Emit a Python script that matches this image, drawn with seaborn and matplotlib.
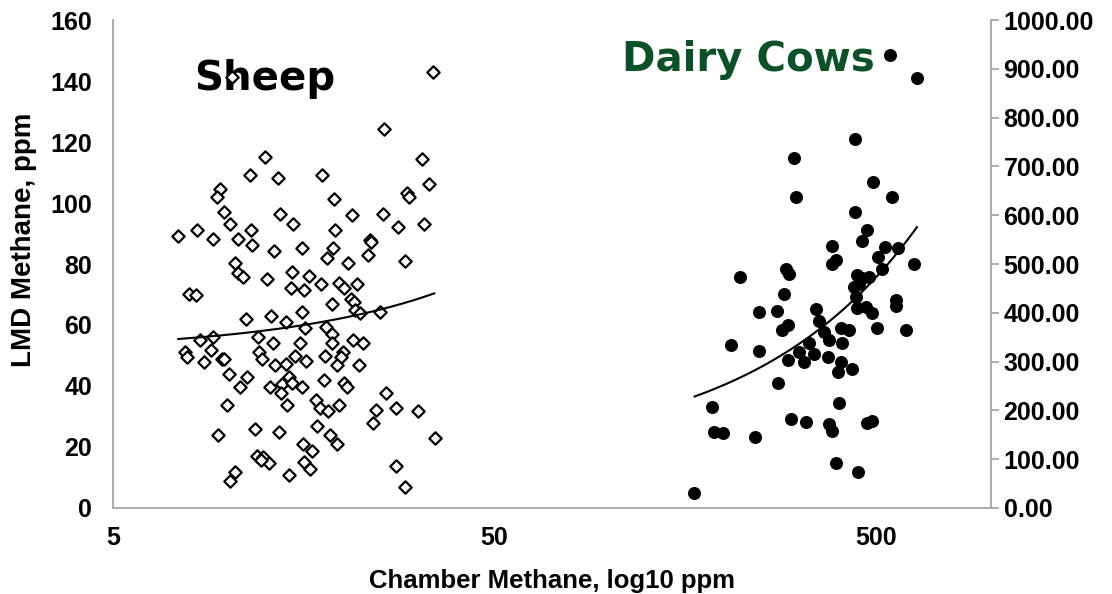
import numpy as np
import matplotlib
matplotlib.use("Agg")
import matplotlib.pyplot as plt
import seaborn as sns
from matplotlib.ticker import FixedLocator, FixedFormatter, NullLocator, FormatStrFormatter

# ---------------- data ----------------
sheep_x = [10.25, 12.5, 11.4, 13.5, 9.55, 9.35, 9.75, 13.7, 14.8, 10.15,
           7.4, 8.3, 9.15, 11.5, 10.65, 11.6, 13.2, 15.6, 10.45, 10.65,
           10.95, 12.7, 14.7, 16.35, 34.5, 25.6, 32.25, 17.65, 33.7, 29.5,
           29.9, 19.0, 21.2, 25.5, 27.95, 32.75, 19.1, 23.55, 23.7, 18.9,
           18.2, 23.3, 20.6, 29.2, 17.55, 19.6, 20.2, 21.85, 15.85, 7.9,
           8.25, 11.15, 13.0, 14.6, 14.2, 15.95, 8.45, 9.15, 9.05, 12.0,
           13.1, 15.45, 7.7, 7.8, 8.65, 9.65, 9.75, 12.1, 12.3, 13.3,
           14.2, 15.0, 16.05, 10.05, 11.25, 10.75, 12.9, 14.5, 13.9, 13.8,
           14.7, 15.65, 9.95, 14.3, 9.45, 11.8, 13.6, 15.75, 11.9, 12.4,
           12.8, 12.2, 15.85, 10.45, 10.15, 14.5, 18.8, 21.0, 21.35, 21.55,
           22.15, 25.0, 15.65, 18.05, 18.7, 18.7, 21.25, 22.55, 20.0, 19.8,
           17.95, 19.3, 22.05, 17.85, 20.2, 20.5, 26.0, 17.05, 17.45, 18.3,
           19.6, 24.5, 27.65, 31.45, 24.0, 17.15, 18.5, 19.3, 34.8, 16.65,
           16.45, 27.55, 29.1]
sheep_y = [141.4, 115.2, 109.2, 108.1, 104.5, 102.1, 97.1, 96.3, 93.1, 93.1,
           89.2, 91.1, 88.1, 91.1, 88.1, 86.1, 84.2, 85.1, 80.2, 77.1,
           75.8, 75.1, 77.3, 76.1, 143.0, 124.2, 114.3, 109.1, 106.1, 103.2,
           102.1, 101.2, 96.1, 96.3, 92.2, 93.1, 91.1, 87.9, 87.3, 85.3,
           81.9, 83.0, 80.2, 81.1, 73.3, 73.8, 72.0, 73.3, 71.5, 70.2,
           69.9, 62.0, 63.0, 72.0, 61.1, 58.9, 55.1, 56.0, 51.8, 56.0,
           54.0, 54.0, 51.2, 49.6, 48.0, 48.9, 48.9, 51.2, 48.9, 46.9,
           47.2, 49.8, 48.2, 43.9, 42.9, 39.8, 39.8, 43.0, 40.7, 37.8,
           41.1, 39.8, 33.8, 33.8, 23.9, 26.0, 24.8, 21.0, 17.1, 16.8,
           14.7, 15.7, 15.0, 11.9, 8.9, 10.8, 66.9, 68.4, 67.6, 64.9,
           63.8, 64.2, 64.2, 59.2, 57.0, 54.0, 55.1, 54.0, 51.2, 49.6,
           49.8, 46.9, 46.9, 42.0, 41.1, 39.8, 37.8, 35.4, 32.9, 31.8,
           33.8, 32.1, 32.9, 31.9, 27.8, 27.0, 23.9, 20.9, 22.9, 18.7,
           12.7, 13.9, 6.8]

cow_x = [543, 640, 441, 305, 309, 490, 551, 440, 472, 458,
         383, 529, 571, 506, 392, 383, 628, 290, 519, 220,
         295, 446, 459, 479, 437, 451, 287, 247, 275, 347,
         354, 442, 446, 470, 489, 564, 564, 293, 284, 366,
         376, 404, 425, 503, 597, 208, 247, 333, 314, 344,
         293, 324, 407, 375, 404, 398, 433, 277, 186, 188,
         198, 241, 299, 327, 376, 383, 400, 474, 489, 392,
         449, 167]
cow_y = [928, 882, 756, 717, 637, 669, 637, 606, 570, 548,
         537, 534, 532, 514, 508, 500, 501, 489, 490, 474,
         480, 477, 471, 473, 453, 459, 439, 402, 404, 407,
         384, 432, 409, 412, 400, 426, 414, 375, 365, 361,
         344, 368, 365, 368, 365, 333, 322, 338, 320, 315,
         303, 300, 338, 310, 300, 279, 284, 257, 206, 155,
         154, 145, 182, 176, 172, 158, 216, 175, 178, 93,
         73, 31]

# linear trendlines (intercept, slope)
sheep_trend = [51.35, 0.547]
cow_trend = [105.5, 0.735]

x_ticks = [5, 50, 500]
x_tick_labels = ["5", "50", "500"]
left_ticks = [0, 20, 40, 60, 80, 100, 120, 140, 160]
right_ticks = [0, 100, 200, 300, 400, 500, 600, 700, 800, 900, 1000]

# ---------------- style ----------------
sns.set_theme(style="white")
plt.rcParams["font.family"] = ["Liberation Sans", "DejaVu Sans"]
plt.rcParams["font.weight"] = "bold"
plt.rcParams["text.color"] = "black"
plt.rcParams["axes.labelcolor"] = "black"
plt.rcParams["xtick.color"] = "black"
plt.rcParams["ytick.color"] = "black"

fig = plt.figure(figsize=(11.12, 5.94), dpi=100)
ax = fig.add_axes([0.1016, 0.1448, 0.7896, 0.8215])
ax2 = ax.twinx()

spine_col = "#a6a6a6"

# sheep (left axis)
sns.scatterplot(x=sheep_x, y=sheep_y, ax=ax, marker="D", s=40,
                color="white", edgecolor="black", linewidth=1.6, zorder=3)
sx = np.linspace(min(sheep_x), max(sheep_x), 200)
sns.lineplot(x=sx, y=sheep_trend[0] + sheep_trend[1] * sx, ax=ax,
             color="black", linewidth=1.5, zorder=4)

# cows (right axis)
sns.scatterplot(x=cow_x, y=cow_y, ax=ax2, marker="o", s=88,
                color="black", edgecolor="black", linewidth=0, zorder=3)
cx = np.linspace(min(cow_x), max(cow_x), 200)
sns.lineplot(x=cx, y=cow_trend[0] + cow_trend[1] * cx, ax=ax2,
             color="black", linewidth=1.5, zorder=4)

# axes setup
ax.set_xscale("log")
ax.set_xlim(5, 1000)
ax.set_ylim(0, 160)
ax2.set_ylim(0, 1000)
ax.xaxis.set_major_locator(FixedLocator(x_ticks))
ax.xaxis.set_major_formatter(FixedFormatter(x_tick_labels))
ax.xaxis.set_minor_locator(NullLocator())
ax.set_yticks(left_ticks)
ax2.set_yticks(right_ticks)
ax2.yaxis.set_major_formatter(FormatStrFormatter("%.2f"))

ax.tick_params(axis="x", length=0, pad=13, labelsize=18, labelcolor="black")
ax.tick_params(axis="y", length=0, pad=15, labelsize=18, labelcolor="black")
ax2.tick_params(axis="y", length=6, width=1.3, color=spine_col,
                direction="out", pad=3, labelsize=18, labelcolor="black")
for lab in ax.get_xticklabels() + ax.get_yticklabels() + ax2.get_yticklabels():
    lab.set_fontweight("bold")

for side in ["top", "right"]:
    ax.spines[side].set_visible(False)
for side in ["left", "bottom"]:
    ax.spines[side].set_color(spine_col)
    ax.spines[side].set_linewidth(1.3)
for side in ["top", "left", "bottom"]:
    ax2.spines[side].set_visible(False)
ax2.spines["right"].set_color(spine_col)
ax2.spines["right"].set_linewidth(1.3)
ax.grid(False)
ax2.grid(False)

ax.set_xlabel("Chamber Methane, log10 ppm", fontsize=18.5, fontweight="bold",
              labelpad=14, color="black")
ax.set_ylabel("LMD Methane, ppm", fontsize=20, fontweight="bold", color="black")
ax.yaxis.set_label_coords(-0.0866, 0.549)
ax2.set_ylabel("")

ax.text(0.1726, 0.8566, "Sheep", transform=ax.transAxes, ha="center",
        va="baseline", fontsize=29, fontweight="bold", family="DejaVu Sans",
        color="black", zorder=1)
ax.text(0.724, 0.8955, "Dairy Cows", transform=ax.transAxes, ha="center",
        va="baseline", fontsize=29, fontweight="bold", family="DejaVu Sans",
        color="#0b5128", zorder=1)

fig.savefig("out.png", dpi=100)
